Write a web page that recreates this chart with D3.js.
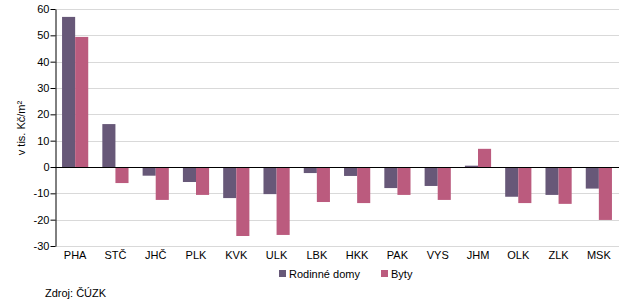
<!DOCTYPE html>
<html>
<head>
<meta charset="utf-8">
<script src="https://cdn.jsdelivr.net/npm/d3@7"></script>
<style>
body{margin:0;background:#fff;}
text{font-family:Arial,"Liberation Sans",sans-serif;}
</style>
</head>
<body>
<svg id="chart" width="643" height="303"></svg>
<script>
var regions = ['PHA','STČ','JHČ','PLK','KVK','ULK','LBK','HKK','PAK','VYS','JHM','OLK','ZLK','MSK'];
var domy = [57.0,16.3,-3.3,-5.7,-11.8,-10.3,-2.3,-3.4,-8.0,-7.2,0.5,-11.3,-10.6,-8.2];
var byty = [49.4,-6.1,-12.5,-10.6,-26.2,-25.8,-13.3,-13.7,-10.6,-12.5,6.9,-13.7,-14.0,-20.1];
var seriesNames = ['Rodinné domy','Byty'];
var yTicks = [-30,-20,-10,0,10,20,30,40,50,60];

var colors = ['#675878','#bb5b7e'];

var svg = d3.select('#chart');
var plotLeft = 55, plotRight = 619, plotTop = 9, plotBottom = 246;

var x = d3.scaleBand().domain(regions).range([plotLeft,plotRight]).paddingInner(0.35).paddingOuter(0.175);
var xs = d3.scaleBand().domain([0,1]).range([0,x.bandwidth()]);
var y = d3.scaleLinear().domain([-30,60]).range([plotBottom,plotTop]);

// gridlines
svg.append('g').selectAll('line')
	.data(yTicks)
	.enter()
	.append('line')
	.attr('x1',plotLeft).attr('x2',plotRight)
	.attr('y1',function(d){ return Math.round(y(d))+0.5 })
	.attr('y2',function(d){ return Math.round(y(d))+0.5 })
	.attr('stroke','#d9d9d9')
	.attr('stroke-width',1);

var data = regions.map(function(r,i){ return {name:r, vals:[domy[i],byty[i]]} });

var groups = svg.append('g').selectAll('g')
	.data(data)
	.enter()
	.append('g')
	.attr('transform',function(d){ return 'translate('+x(d.name)+',0)' });

groups.selectAll('rect')
	.data(function(d){ return d.vals })
	.enter()
	.append('rect')
	.attr('x',function(d,i){ return xs(i) })
	.attr('width',xs.bandwidth())
	.attr('y',function(d){ return y(Math.max(0,d)) })
	.attr('height',function(d){ return Math.abs(y(d)-y(0)) })
	.attr('fill',function(d,i){ return colors[i] });

// zero line
svg.append('line')
	.attr('x1',plotLeft).attr('x2',plotRight)
	.attr('y1',Math.round(y(0))+0.5).attr('y2',Math.round(y(0))+0.5)
	.attr('stroke','#000');

// y axis
var yAxis = svg.append('g')
	.attr('transform','translate('+(plotLeft+0.5)+',0)')
	.call(d3.axisLeft(y).tickValues(yTicks).tickSize(5).tickSizeOuter(0)
		.tickFormat(function(d){ return String(d) }));
yAxis.select('.domain').attr('stroke','#000');
yAxis.selectAll('.tick line').attr('stroke','#000');
yAxis.selectAll('.tick text')
	.attr('x',-6)
	.style('font-family','Arial,"Liberation Sans",sans-serif')
	.style('font-size','11px')
	.attr('fill','#000');

// x labels
svg.append('g').selectAll('text')
	.data(regions)
	.enter()
	.append('text')
	.attr('x',function(d){ return x(d)+x.bandwidth()/2 })
	.attr('y',259)
	.attr('text-anchor','middle')
	.style('font-size','11px')
	.text(function(d){ return d });

// y title
svg.append('text')
	.attr('transform','translate(25,128) rotate(-90)')
	.attr('text-anchor','middle')
	.style('font-size','11px')
	.text('v tis. Kč/m²');

// legend
var legX = [279,381];
var leg = svg.append('g').selectAll('g')
	.data(seriesNames)
	.enter()
	.append('g')
	.attr('transform',function(d,i){ return 'translate('+legX[i]+',270)' });
leg.append('rect').attr('width',7).attr('height',7).attr('fill',function(d,i){ return colors[i] });
leg.append('text').attr('x',10).attr('y',7.5).style('font-size','11px').text(function(d){ return d });

// source
svg.append('text')
	.attr('x',45).attr('y',297)
	.style('font-size','11px')
	.text('Zdroj: ČÚZK');
</script>
</body>
</html>
